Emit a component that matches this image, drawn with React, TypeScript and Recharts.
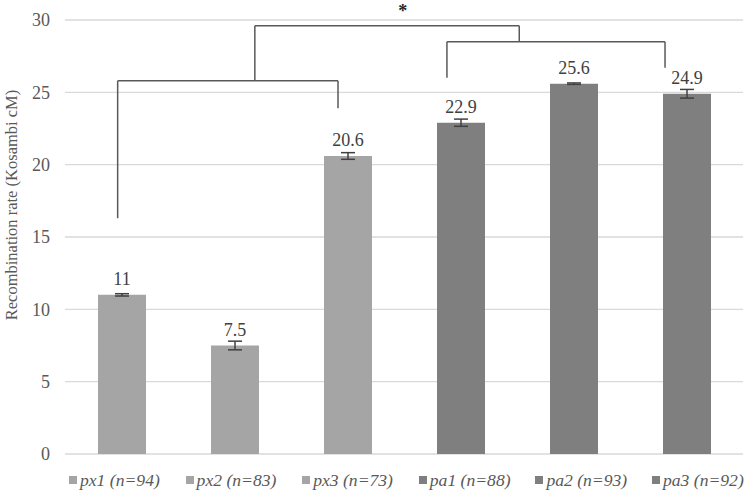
import React from 'react';
import {
  BarChart,
  Bar,
  Cell,
  XAxis,
  YAxis,
  CartesianGrid,
  ErrorBar,
  LabelList,
  Legend,
  ReferenceLine,
  ReferenceDot,
  Label,
} from 'recharts';

// Categories, legend labels and values
const categories = ['px1', 'px2', 'px3', 'pa1', 'pa2', 'pa3'];
const legendLabels = ['px1 (n=94)', 'px2 (n=83)', 'px3 (n=73)', 'pa1 (n=88)', 'pa2 (n=93)', 'pa3 (n=92)'];
const rates = [11, 7.5, 20.6, 22.9, 25.6, 24.9];
const errors = [0.08, 0.3, 0.23, 0.25, 0.05, 0.3];
const yTicks = [0, 5, 10, 15, 20, 25, 30];

// Significance brackets, in data units (x on a 0..6 band scale, y in cM)
const brackets = [
  [[0.466, 16.3], [0.466, 25.8], [2.416, 25.8], [2.416, 23.9]],
  [[3.38, 26.0], [3.38, 28.5], [5.31, 28.5], [5.31, 26.7]],
  [[1.68, 25.8], [1.68, 29.6], [4.02, 29.6], [4.02, 28.5]],
];
const starPos = { x: 2.99, y: 30 };

const LIGHT = '#a5a5a5';
const DARK = '#7f7f7f';
const FONT = 'Liberation Serif';

const data = categories.map((name, i) => ({ name, pos: i + 0.5, value: rates[i], err: errors[i] }));
const colors = categories.map((c) => (c.startsWith('px') ? LIGHT : DARK));

// break each bracket polyline into straight segments
const segments = brackets.flatMap((pts) =>
  pts.slice(1).map((p, i) => [
    { x: pts[i][0], y: pts[i][1] },
    { x: p[0], y: p[1] },
  ])
);

const LegendContent = () => (
  <div style={{ height: 24, position: 'relative', fontFamily: FONT }}>
    {legendLabels.map((label, i) => (
      <div
        key={label}
        style={{
          position: 'absolute',
          left: 69 + i * 116.6,
          top: 0,
          height: 24,
          display: 'flex',
          alignItems: 'center',
          whiteSpace: 'nowrap',
        }}
      >
        <span style={{ width: 8, height: 8, background: colors[i], marginRight: 3, display: 'inline-block' }} />
        <span style={{ fontStyle: 'italic', fontSize: 17.6, color: '#595959' }}>{label}</span>
      </div>
    ))}
  </div>
);

export default function App() {
  return (
    <div style={{ position: 'absolute', left: 0, top: 0, width: 748, height: 494, background: '#fff', fontFamily: FONT }}>
      <BarChart
        width={748}
        height={494}
        data={data}
        margin={{ top: 20, right: 5, bottom: 16, left: 0 }}
        barSize={48}
        style={{ fontFamily: FONT }}
      >
        <CartesianGrid vertical={false} stroke="#d9d9d9" strokeWidth={1.3} />
        <XAxis dataKey="name" hide />
        <XAxis xAxisId="num" dataKey="pos" type="number" domain={[0, 6]} allowDataOverflow hide />
        <YAxis
          domain={[0, 30]}
          ticks={yTicks}
          width={65}
          axisLine={false}
          tickLine={false}
          tickMargin={9}
          tick={{ fill: '#595959', fontSize: 18, fontFamily: FONT }}
        >
          <Label
            content={() => (
              <text
                x={11}
                y={205}
                transform="rotate(-90, 11, 205)"
                textAnchor="middle"
                dominantBaseline="central"
                fill="#595959"
                fontSize={16.5}
                fontFamily={FONT}
              >
                Recombination rate (Kosambi cM)
              </text>
            )}
          />
        </YAxis>
        <Legend verticalAlign="bottom" content={LegendContent} wrapperStyle={{ left: 0, bottom: 2, width: 748 }} />
        <Bar dataKey="value" isAnimationActive={false}>
          {data.map((entry, index) => (
            <Cell key={`cell-${index}`} fill={colors[index]} />
          ))}
          <ErrorBar dataKey="err" width={7} stroke="#404040" strokeWidth={1.5} />
          <LabelList dataKey="value" position="top" offset={10} fill="#404040" fontSize={18} fontFamily={FONT} />
        </Bar>
        {segments.map((seg, i) => (
          <ReferenceLine key={`seg-${i}`} xAxisId="num" segment={seg} stroke="#595959" strokeWidth={1.5} />
        ))}
        <ReferenceDot
          xAxisId="num"
          x={starPos.x}
          y={starPos.y}
          r={0}
          ifOverflow="visible"
          label={{ value: '*', position: 'top', offset: 3, fill: '#262626', fontSize: 18, fontWeight: 'bold', fontFamily: FONT }}
        />
      </BarChart>
    </div>
  );
}
